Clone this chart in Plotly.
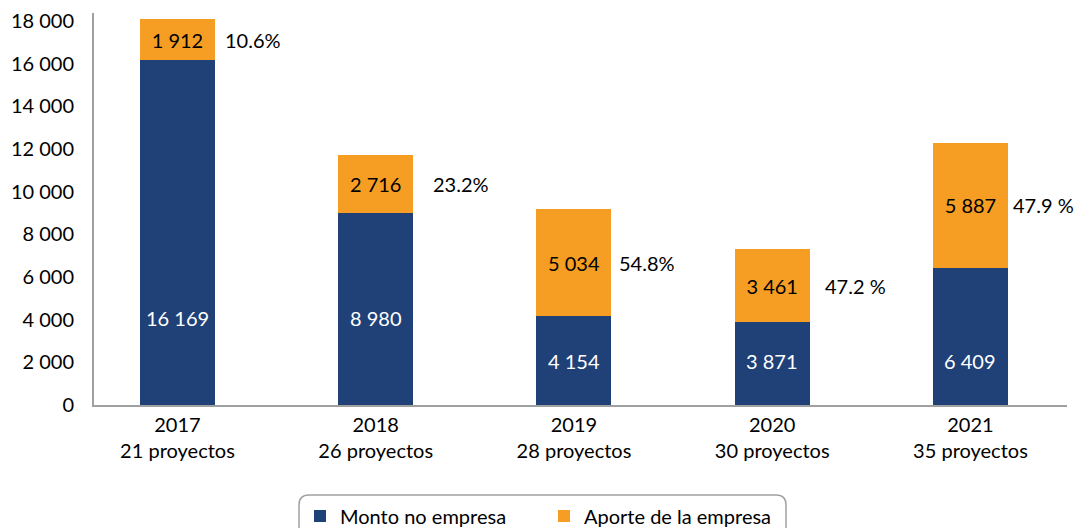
import plotly.graph_objects as go

years = ["2017", "2018", "2019", "2020", "2021"]
proyectos = ["21 proyectos", "26 proyectos", "28 proyectos", "30 proyectos", "35 proyectos"]
monto_no_empresa = [16169, 8980, 4154, 3871, 6409]
aporte_empresa = [1912, 2716, 5034, 3461, 5887]
porcentaje = ["10.6%", "23.2%", "54.8%", "47.2 %", "47.9 %"]
y_ticks = [0, 2000, 4000, 6000, 8000, 10000, 12000, 14000, 16000, 18000]

BLUE = "#1F4178"
ORANGE = "#F59E23"
FONT = "Lato, 'Liberation Sans', sans-serif"
FS = 20

W, H = 1084, 528
L, R, T, B = 94, 17, 13, 123
PW, PH = W - L - R, H - T - B

def fmt(v):
    return f"{v:,}".replace(",", " ")

cats = list(range(len(years)))
ticktext = [f"{y}<br>{p}" for y, p in zip(years, proyectos)]
BW = 0.378

# label placement (layout settings, not data)
blue_label_y = [4100, 4100, 2050, 2050, 2050]
pct_gap = [8, 18, 6, 13, 3]

fig = go.Figure()
fig.add_trace(go.Bar(
    x=cats, y=monto_no_empresa, name="Monto no empresa",
    marker=dict(color=BLUE, line=dict(width=0)), width=BW,
    hoverinfo="skip",
))
fig.add_trace(go.Bar(
    x=cats, y=aporte_empresa, name="Aporte de la empresa",
    marker=dict(color=ORANGE, line=dict(width=0)), width=BW,
    text=[fmt(v) for v in aporte_empresa], textposition="inside",
    insidetextanchor="middle", textangle=0,
    textfont=dict(color="black", size=FS, family=FONT),
    hoverinfo="skip",
))

annotations = []
for i, v in enumerate(monto_no_empresa):
    annotations.append(dict(
        x=cats[i], y=blue_label_y[i], xref="x", yref="y", text=fmt(v),
        showarrow=False, font=dict(color="white", size=FS, family=FONT),
        xanchor="center", yanchor="middle",
    ))
for i, p in enumerate(porcentaje):
    mid = monto_no_empresa[i] + aporte_empresa[i] / 2
    annotations.append(dict(
        x=cats[i] + BW / 2, y=mid, xref="x", yref="y", text=p,
        showarrow=False, font=dict(color="black", size=FS, family=FONT),
        xanchor="left", yanchor="middle", xshift=pct_gap[i],
    ))

# rounded legend frame (pixel geometry converted to paper coords)
def px2x(px):
    return (px - L) / PW

def py2y(py):
    return (H - B - py) / PH

x0, x1, y0, y1, r = 299, 786, 495, 545, 10
rx, ry = r / PW, r / PH
X0, X1, Y0, Y1 = px2x(x0), px2x(x1), py2y(y0), py2y(y1)
path = (f"M {X0+rx},{Y0} L {X1-rx},{Y0} Q {X1},{Y0} {X1},{Y0-ry} "
        f"L {X1},{Y1+ry} Q {X1},{Y1} {X1-rx},{Y1} L {X0+rx},{Y1} "
        f"Q {X0},{Y1} {X0},{Y1+ry} L {X0},{Y0-ry} Q {X0},{Y0} {X0+rx},{Y0} Z")

fig.update_layout(
    width=W, height=H,
    margin=dict(l=L, r=R, t=T, b=B, autoexpand=False),
    barmode="stack",
    plot_bgcolor="white", paper_bgcolor="white",
    font=dict(family=FONT, size=FS, color="black"),
    showlegend=True,
    legend=dict(
        orientation="h", x=px2x(300), y=py2y(516), xanchor="left", yanchor="middle",
        font=dict(size=20, family=FONT, color="black"),
        entrywidth=199, bgcolor="rgba(0,0,0,0)", borderwidth=0,
        traceorder="normal",
    ),
    xaxis=dict(
        range=[-0.421, 4.487], tickmode="array", tickvals=cats, ticktext=ticktext,
        showline=True, linecolor="#A0A0A0", linewidth=2, showgrid=False,
        ticks="", zeroline=False, tickfont=dict(size=FS, family=FONT, color="black"),
        fixedrange=True, automargin=False, ticklabelstandoff=1,
    ),
    yaxis=dict(
        range=[0, 18375], tickmode="array", tickvals=y_ticks,
        ticktext=[fmt(v) for v in y_ticks],
        showline=True, linecolor="#A0A0A0", linewidth=2, showgrid=False,
        ticks="", zeroline=False, ticklabelstandoff=14,
        tickfont=dict(size=FS, family=FONT, color="black"),
        fixedrange=True, automargin=False,
    ),
    annotations=annotations,
    shapes=[dict(type="path", path=path, xref="paper", yref="paper",
                 line=dict(color="#A0A0A0", width=1.5), fillcolor="rgba(0,0,0,0)",
                 layer="below")],
)

fig.write_html(
    "out.html",
    config={"displayModeBar": False},
    post_script="document.body.style.margin='0';document.body.style.overflow='hidden';",
)
